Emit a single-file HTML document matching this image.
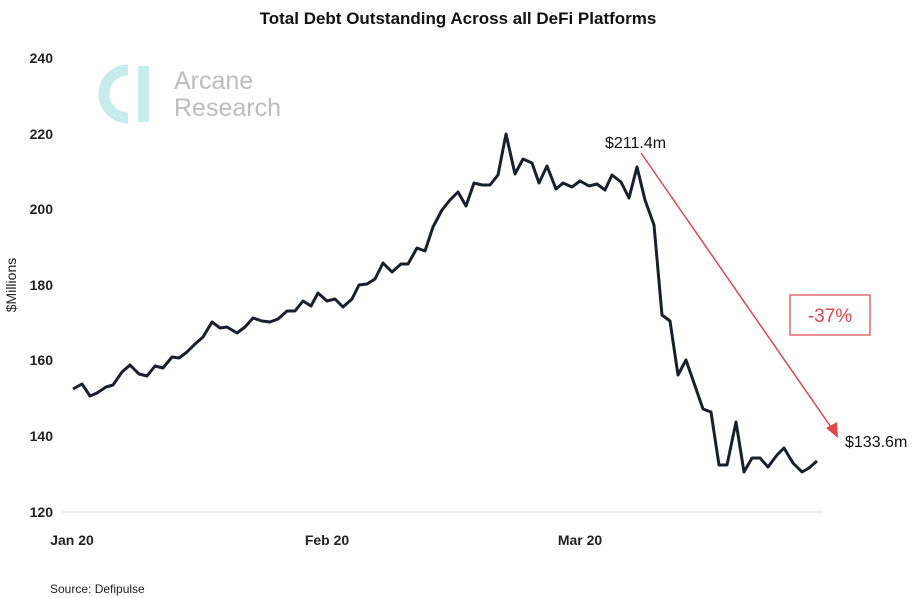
<!DOCTYPE html>
<html><head><style>
body{margin:0;background:#fff;}
svg{display:block;font-family:"Liberation Sans",sans-serif;}
</style></head><body>
<svg width="919" height="598" viewBox="0 0 919 598">
<text x="458" y="24" text-anchor="middle" font-size="17" font-weight="bold" fill="#111">Total Debt Outstanding Across all DeFi Platforms</text>
<path d="M128 70 A24 24 0 1 0 128 118" fill="none" stroke="#c8ecec" stroke-width="11"/>
<rect x="138" y="66" width="11" height="56" fill="#c8ecec"/>
<text x="174" y="89" font-size="25" fill="#bdbdbd">Arcane</text>
<text x="174" y="116" font-size="25" fill="#bdbdbd">Research</text>
<g font-size="14" font-weight="bold" fill="#222" text-anchor="end">
<text x="53" y="63">240</text><text x="53" y="139">220</text><text x="53" y="214">200</text>
<text x="53" y="290">180</text><text x="53" y="365">160</text><text x="53" y="441">140</text><text x="53" y="517">120</text>
</g>
<text transform="translate(16,285) rotate(-90)" text-anchor="middle" font-size="14" fill="#222">$Millions</text>
<line x1="62" y1="512" x2="822" y2="512" stroke="#d9d9d9" stroke-width="1"/>
<g font-size="14" font-weight="bold" fill="#222" text-anchor="middle">
<text x="72" y="545">Jan 20</text><text x="327" y="545">Feb 20</text><text x="580" y="545">Mar 20</text>
</g>
<text x="50" y="593" font-size="12" fill="#222">Source: Defipulse</text>
<polyline fill="none" stroke="#17202e" stroke-width="3" stroke-linejoin="round" points="73,389 82,384 90,396 97,393 106,387 113,385 122,372 130,365 139,374 147,376 155,366 163,368 172,357 179,358 187,352 195,344 203,337 212,322 220,328 227,327 237,333 245,327 253,318 262,321 270,322 278,319 287,311 295,311 303,301 311,306 318,293 327,301 335,299 343,307 352,299 359,285 367,284 375,279 383,263 392,272 401,264 408,264 417,248 425,251 433,227 442,210 450,200 458,192 466,206 474,183 482,185 490,185 498,175 506,134 515,174 523,159 532,163 539,183 547,166 556,189 563,183 572,187 580,181 589,186 597,184 605,190 612,175 621,182 629,198 637,167 645,200 654,225 662,315 670,321 678,375 686,360 694,383 703,409 711,412 719,465 727,465 736,422 744,472 752,458 760,458 768,467 777,455 784,448 793,463 802,472 809,468 817,461"/>
<line x1="641" y1="153" x2="833" y2="430" stroke="#e0474c" stroke-width="1.5"/>
<polygon points="838,438 826,428 837,422" fill="#e0474c"/>
<rect x="790" y="295" width="80" height="40" fill="#fff" stroke="#e0474c" stroke-width="1.2"/>
<text x="830" y="322" text-anchor="middle" font-size="19" fill="#e0474c">-37%</text>
<text x="605" y="148" font-size="16" fill="#111">$211.4m</text>
<text x="845" y="447" font-size="16" fill="#111">$133.6m</text>
</svg>
</body></html>
